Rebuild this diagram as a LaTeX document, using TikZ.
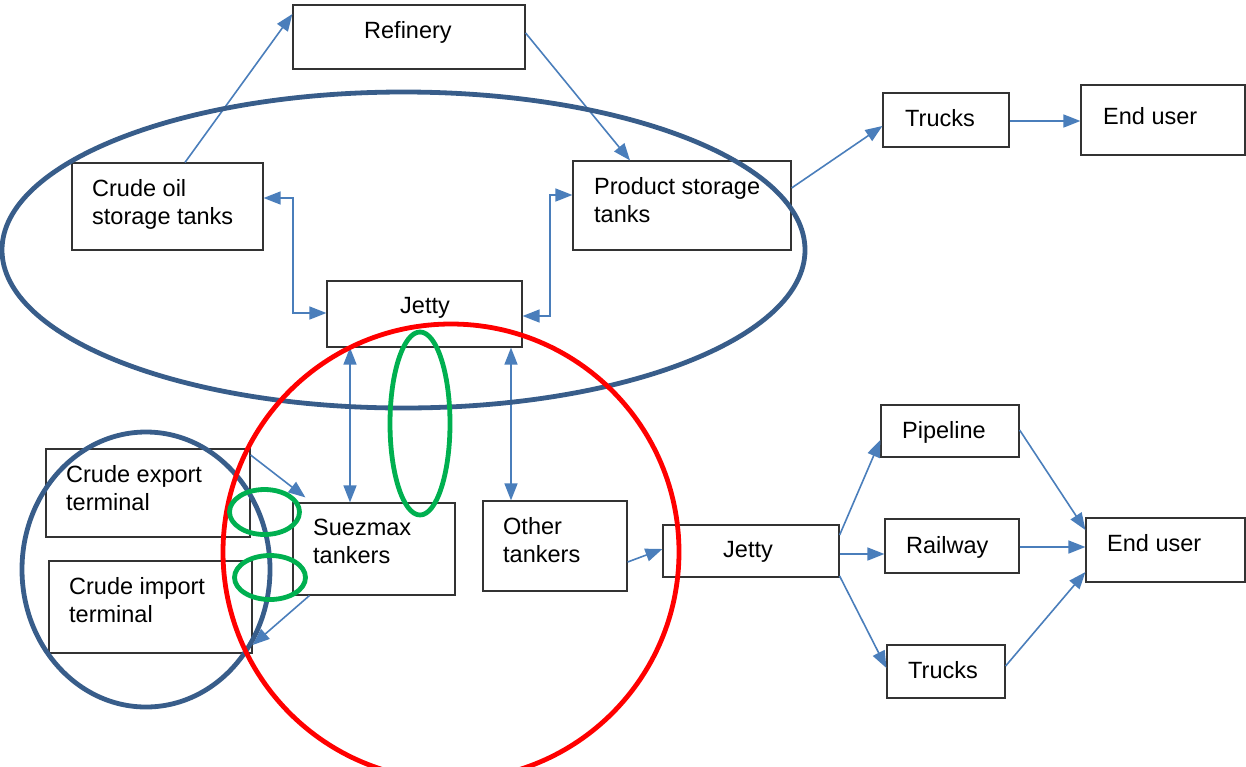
\documentclass[tikz,border=0pt]{standalone}
\usepackage{fontspec}
\setmainfont{Liberation Sans}
\usetikzlibrary{arrows.meta}
\definecolor{arrowblue}{RGB}{74,126,187}
\definecolor{darkblue}{RGB}{56,93,138}
\definecolor{mygreen}{RGB}{0,176,80}
\begin{document}
\begin{tikzpicture}[x=1pt,y=-1pt,
  box/.style={draw=black!80, line width=1.2pt, inner sep=0pt},
  txt/.style={anchor=north west, inner sep=0pt, align=left, font=\fontsize{23.5}{28}\selectfont},
  arr/.style={draw=arrowblue, line width=1.6pt, -{Triangle[length=17pt,width=13pt]}},
  darr/.style={draw=arrowblue, line width=1.6pt, {Triangle[length=17pt,width=13pt]}-{Triangle[length=17pt,width=13pt]}},
  ring/.style={line width=4.8pt}]
\useasboundingbox (0,0) rectangle (1246,766);
% boxes
\node[box, minimum width=232pt, minimum height=64pt] (ref) at (409,37) {};
\node[box, minimum width=191pt, minimum height=87pt] (cot) at (167.5,206.5) {};
\node[box, minimum width=218pt, minimum height=89pt] (pst) at (682,205.5) {};
\node[box, minimum width=195pt, minimum height=66pt] (jt) at (424.5,314) {};
\node[box, minimum width=126pt, minimum height=54pt] (tr1) at (946,120) {};
\node[box, minimum width=164pt, minimum height=70pt] (eu1) at (1163,120) {};
\node[box, minimum width=204pt, minimum height=88pt] (cet) at (148,493) {};
\node[box, minimum width=203pt, minimum height=92pt] (cit) at (150.5,607) {};
\node[box, minimum width=162pt, minimum height=92pt] (suez) at (374,549) {};
\node[box, minimum width=144pt, minimum height=90pt] (oth) at (555,546) {};
\node[box, minimum width=176pt, minimum height=52pt] (jb) at (751,551) {};
\node[box, minimum width=138pt, minimum height=52pt] (pip) at (950,431) {};
\node[box, minimum width=134pt, minimum height=54pt] (rail) at (952,546) {};
\node[box, minimum width=118pt, minimum height=53pt] (tr2) at (946,671.5) {};
\node[box, minimum width=159pt, minimum height=64pt] (eu2) at (1165.5,550) {};
% texts
\node[txt] (ref-t) at (364,21) {Refinery};
\node[txt] (cot-t) at (92,179) {Crude oil\\storage tanks};
\node[txt] (pst-t) at (594,177) {Product storage\\tanks};
\node[txt] (jt-t) at (400,297) {Jetty};
\node[txt] (tr1-t) at (905,109) {Trucks};
\node[txt] (eu1-t) at (1103,107) {End user};
\node[txt] (cet-t) at (66,465) {Crude export\\terminal};
\node[txt] (cit-t) at (69,577) {Crude import\\terminal};
\node[txt] (suez-t) at (313,519) {Suezmax\\tankers};
\node[txt] (oth-t) at (503,517) {Other\\tankers};
\node[txt] (jb-t) at (723,541) {Jetty};
\node[txt] (pip-t) at (902,421) {Pipeline};
\node[txt] (rail-t) at (906,536) {Railway};
\node[txt] (tr2-t) at (908,661) {Trucks};
\node[txt] (eu2-t) at (1107,534) {End user};
% connectors
\draw[arr] (cot.north -| 185,0) -- (ref.west |- 0,14);
\draw[arr] (ref.east |- 0,33) -- (pst.north -| 630,0);
\draw[darr] (cot.east |- 0,198) -| (293,255) |- (jt.west |- 0,313);
\draw[darr] (pst.west |- 0,195) -| (550,255) |- (jt.east |- 0,316);
\draw[darr] (jt.south -| 350,0) -- (suez.north -| 350,0);
\draw[darr] (jt.south -| 511,0) -- (oth.north -| 511,0);
\draw[arr] (pst.east |- 0,188) -- (tr1.west |- 0,126);
\draw[arr] (tr1.east |- 0,121) -- (eu1.west |- 0,121);
\draw[arr] (cet.east |- 0,455) -- ([xshift=13pt,yshift=5pt]suez.north west);
\draw[arr] ([xshift=17pt]suez.south west) -- (cit.east |- 0,645);
\draw[arr] (oth.east |- 0,562) -- (jb.west |- 0,549);
\draw[arr] (jb.east |- 0,535) -- (pip.west |- 0,440);
\draw[arr] (jb.east |- 0,554) -- (rail.west |- 0,554);
\draw[arr] (jb.east |- 0,576) -- (tr2.west |- 0,668);
\draw[arr] (pip.east |- 0,430) -- (eu2.west |- 0,530);
\draw[arr] (rail.east |- 0,547) -- (eu2.west |- 0,547);
\draw[arr] (tr2.east |- 0,666) -- (eu2.west |- 0,572);
% rings
\draw[ring, darkblue] (403.5,250) ellipse [x radius=401.5, y radius=158];
\draw[ring, darkblue] (146,569.5) ellipse [x radius=124, y radius=137.5];
\draw[ring, red] (451,552) ellipse [x radius=228, y radius=228];
\draw[ring, mygreen] (420,423.5) ellipse [x radius=30, y radius=91.5];
\draw[ring, mygreen] (264.5,512) ellipse [x radius=35, y radius=22.5];
\draw[ring, mygreen] (270,577.5) ellipse [x radius=35.5, y radius=22];
\end{tikzpicture}
\end{document}
